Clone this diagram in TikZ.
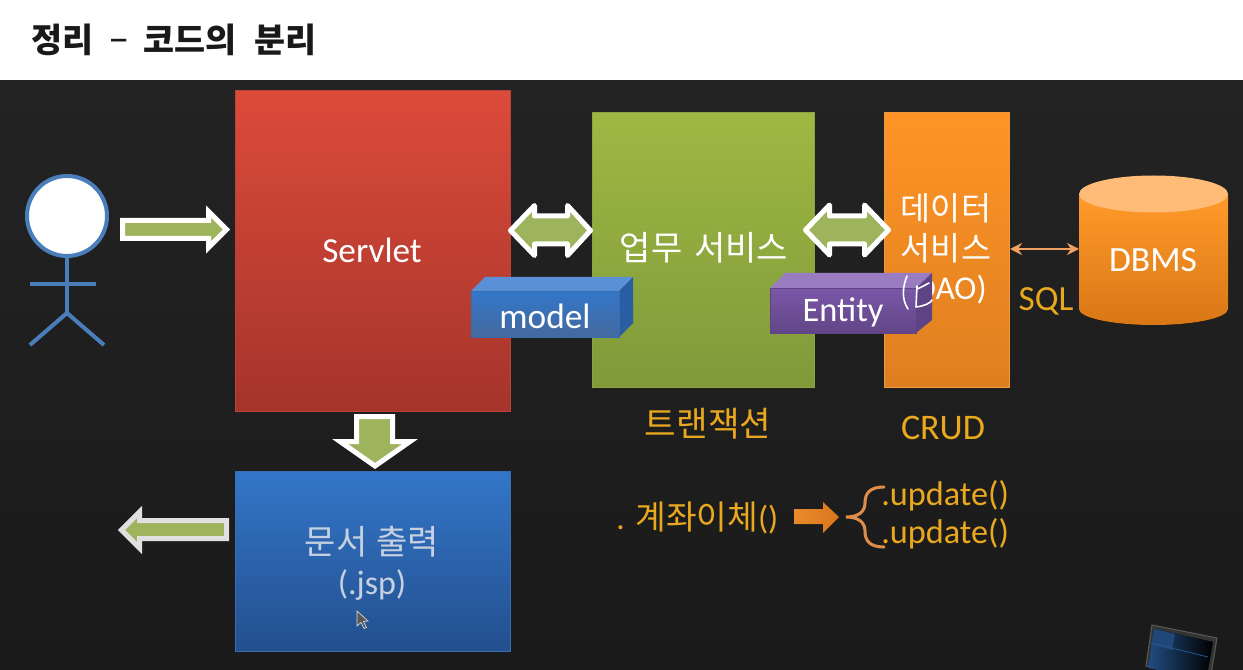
\documentclass[tikz,border=0pt]{standalone}
\usepackage{fontspec}
\setmainfont{Carlito}
\newfontfamily\cjk{Noto Sans CJK KR}
\usetikzlibrary{arrows.meta,shadings}
\definecolor{bgtop}{HTML}{232323}
\definecolor{bgbot}{HTML}{1A1A1A}
\definecolor{amber}{HTML}{E9A81E}
\definecolor{blk}{HTML}{9DB35C}
\definecolor{figblue}{HTML}{4A7EBB}
\definecolor{redtop}{HTML}{DC4B3A}
\definecolor{redbot}{HTML}{A5342B}
\definecolor{bluetop}{HTML}{3376C8}
\definecolor{bluebot}{HTML}{234F8E}
\definecolor{grntop}{HTML}{9DB842}
\definecolor{grnbot}{HTML}{809A3B}
\definecolor{ortop}{HTML}{FF9426}
\definecolor{orbot}{HTML}{DE7F20}
\definecolor{cyltop}{HTML}{FF9A2A}
\definecolor{cylbot}{HTML}{D97716}
\definecolor{cylcap}{HTML}{FFBC78}
\definecolor{orangeline}{HTML}{F0A060}
\definecolor{modeltop}{HTML}{5A90D6}
\definecolor{modelside}{HTML}{2A5EA4}
\definecolor{enttop}{HTML}{9A7CC0}
\definecolor{entside}{HTML}{5E4485}
\definecolor{entfront}{HTML}{7A57A8}
\definecolor{orangeA}{HTML}{E98A2C}
\definecolor{orangeB}{HTML}{D9761C}
\definecolor{braceC}{HTML}{DE8C4A}
\definecolor{redline}{HTML}{B9433A}
\definecolor{blueline}{HTML}{3A6DB0}
\definecolor{greenline}{HTML}{8BA440}
\definecolor{orline}{HTML}{F09A40}
\definecolor{jsptext}{HTML}{C6D0E0}
\tikzset{
  x=0.75pt,y=-0.75pt,
  box/.style={draw=#1,line width=0.5pt,inner sep=0pt,anchor=north west},
  label/.style={text=white,font=\fontsize{24.5pt}{29pt}\selectfont,align=center,inner sep=0pt},
  amberlabel/.style={text=amber,font=\fontsize{25.7pt}{29pt}\selectfont,align=center,inner sep=0pt},
  blockarrow/.style={draw=white,line width=3.75pt,fill=blk,miter limit=10},
  roundarrow/.style={draw=white,line width=3.75pt,fill=blk,line join=round},
  figure/.style={draw=figblue,line width=3pt},
}
\begin{document}
\begin{tikzpicture}
\useasboundingbox (0,0) rectangle (1243,670);
% background
\shade[top color=bgtop,bottom color=bgbot] (0,80) rectangle (1243,670);
\fill[white] (0,0) rectangle (1243,80);
% title
\node[anchor=west,inner sep=0pt,text=black!90] (title) at (31,40)
  {\cjk\fontsize{25.3pt}{29pt}\selectfont\bfseries 정리\hspace{11pt}{\normalfont\fontsize{32pt}{24pt}\selectfont –}\hspace{11pt}코드의\hspace{13pt}분리};
% boxes
\node[box=redline,minimum width=206.25pt,minimum height=240.75pt,top color=redtop,bottom color=redbot] (servlet) at (235,90) {};
\node[label,font=\fontsize{26.4pt}{30pt}\selectfont] at (372,250) {Servlet};
\node[box=blueline,minimum width=206.25pt,minimum height=135pt,top color=bluetop,bottom color=bluebot] (jsp) at (235,471) {};
\node[text=jsptext,font=\fontsize{25.5pt}{31pt}\selectfont,align=center,inner sep=0pt] at (372,563) {{\cjk 문서\hspace{7pt}출력}\\[-1pt](.jsp)};
\node[box=greenline,minimum width=166.25pt,minimum height=206.5pt,top color=grntop,bottom color=grnbot] (biz) at (592,112) {};
\node[label,font=\fontsize{25.5pt}{29pt}\selectfont] at (704,248) {\cjk 업무\hspace{9pt}서비스};
\node[box=orline,minimum width=93.5pt,minimum height=206.5pt,top color=ortop,bottom color=orbot] (dao) at (884,112) {};
\node[label,font=\fontsize{24.5pt}{29.5pt}\selectfont] at (946,249) {{\cjk 데이터}\\{\cjk 서비스}\\{\fontsize{25pt}{29.5pt}\selectfont (DAO)}};
% DBMS
\fill[top color=cyltop,bottom color=cylbot] (1079,194) -- (1079,309) arc[start angle=180,end angle=0,x radius=74.5,y radius=16] -- (1228,194) -- cycle;
\fill[cylcap] (1153.5,194) ellipse[x radius=74.5,y radius=18.5];
\node[label,font=\fontsize{26.6pt}{30pt}\selectfont] (dbms) at (1153,260) {DBMS};
\node[amberlabel,font=\fontsize{26.5pt}{30pt}\selectfont] (sql) at (1046,301) {SQL};
\coordinate (daoedge) at (1010,249);
\coordinate (dbedge) at (1079,249);
\draw[{Stealth[length=9pt,width=9pt]}-{Stealth[length=9pt,width=9pt]},draw=orangeline,line width=2.2pt] (daoedge) -- (dbedge);
% block arrows
\draw[blockarrow] (122.5,220.5) -- (208.5,220.5) -- (208.5,211.5) -- (226.5,229.5) -- (208.5,247.5) -- (208.5,238.5) -- (122.5,238.5) -- cycle;
\draw[blockarrow,draw=white!88!black] (226.5,520.5) -- (139.5,520.5) -- (139.5,512) -- (121.5,530) -- (139.5,548) -- (139.5,538.5) -- (226.5,538.5) -- cycle;
\draw[blockarrow] (356.5,416.5) -- (392.5,416.5) -- (392.5,441.5) -- (410,441.5) -- (375,466) -- (340,441.5) -- (356.5,441.5) -- cycle;
\draw[roundarrow] (510.5,230.5) -- (534.5,205.5) -- (534.5,216) -- (567.5,216) -- (567.5,205.5) -- (590.5,230.5) -- (567.5,255.5) -- (567.5,244) -- (534.5,244) -- (534.5,255.5) -- cycle;
\draw[roundarrow] (805.5,230) -- (829.5,205) -- (829.5,216) -- (864.5,216) -- (864.5,205) -- (888.5,230) -- (864.5,255) -- (864.5,244) -- (829.5,244) -- (829.5,255) -- cycle;
% model cuboid
\fill[modeltop] (471,291) -- (485,277) -- (633,277) -- (619,291) -- cycle;
\fill[modelside] (619,291) -- (633,277) -- (633,323) -- (619,337) -- cycle;
\node[box=blueline,minimum width=111pt,minimum height=34.5pt,top color=bluetop,bottom color=bluebot!85!white] (model) at (471,291) {};
\node[label,font=\fontsize{26.5pt}{29pt}\selectfont] at (545,316) {model};
% entity cuboid
\fill[enttop] (770,288) -- (785,273) -- (932,273) -- (916,288) -- cycle;
\fill[entside] (916,288) -- (932,273) -- (932,320) -- (916,333) -- cycle;
\node[box=entside,minimum width=109.5pt,minimum height=33.75pt,top color=entfront,bottom color=entfront!80!black] (entity) at (770,288) {};
\node[label,font=\fontsize{25.8pt}{29pt}\selectfont] at (843,312) {Entity};
% scribble
\draw[white,line width=1.2pt,line cap=round] (907,276) .. controls (902,288) and (902,300) .. (908,309);
\draw[white,line width=1.2pt,line cap=round,line join=round] (917,286) -- (916,307) .. controls (924,306) and (931,303) .. (932,300);
\draw[white,line width=1.2pt,line cap=round] (917,289) .. controls (922,287) and (927,284) .. (929,283);
% stick figure
\draw[figure] (67,256) -- (67,313);
\draw[figure] (30,284) -- (96,284);
\draw[figure] (30,345) -- (67,313) -- (104,345);
\node[circle,draw=figblue,line width=3pt,fill=white,minimum size=60pt,inner sep=0pt] (head) at (67,216) {};
% labels
\node[amberlabel] (tx) at (708,424) {\cjk 트랜잭션};
\node[amberlabel,font=\fontsize{27pt}{30pt}\selectfont] (crud) at (943,428) {CRUD};
\node[amberlabel,anchor=west,font=\fontsize{25pt}{29pt}\selectfont] (transfer) at (616,518) {.\hspace{8pt}{\cjk 계좌이체}()};
\node[amberlabel,anchor=west] (up1) at (881,496) {.update()};
\node[amberlabel,anchor=west] (up2) at (881,534) {.update()};
% small orange arrow and brace
\fill[left color=orangeA,right color=orangeB] (794,509) -- (823,509) -- (823,502) -- (839,517) -- (823,533) -- (823,524) -- (794,524) -- cycle;
\draw[draw=braceC,line width=2.3pt,line cap=round] (884,487) .. controls (870,487) and (865,493) .. (865,503) .. controls (865,512) and (858,517) .. (846,517) .. controls (858,517) and (865,522) .. (865,531) .. controls (865,541) and (870,547) .. (884,547);
% cursor
\filldraw[fill=black!65,draw=white!85!black,line width=0.5pt] (357,611) -- (357,626) -- (361,622.5) -- (364,628.5) -- (366.5,627.5) -- (363.5,621.5) -- (368,621) -- cycle;
% thumbnail
\begin{scope}
\clip (1130,610) rectangle (1243,670);
\fill[draw=black!65,fill=black!80,line width=0.8pt] (1152,625) -- (1217,638) -- (1210,680) -- (1146,666) -- cycle;
\fill[left color=bluetop!65!black,right color=black] (1154,629) -- (1213,642) -- (1206,680) -- (1148,668) -- cycle;
\fill[bluetop!60!black] (1154,629) -- (1175,634) -- (1172,650) -- (1151,645) -- cycle;
\draw[bluetop!75!black,line width=0.6pt] (1151,643) -- (1208,657);
\end{scope}
\end{tikzpicture}
\end{document}
